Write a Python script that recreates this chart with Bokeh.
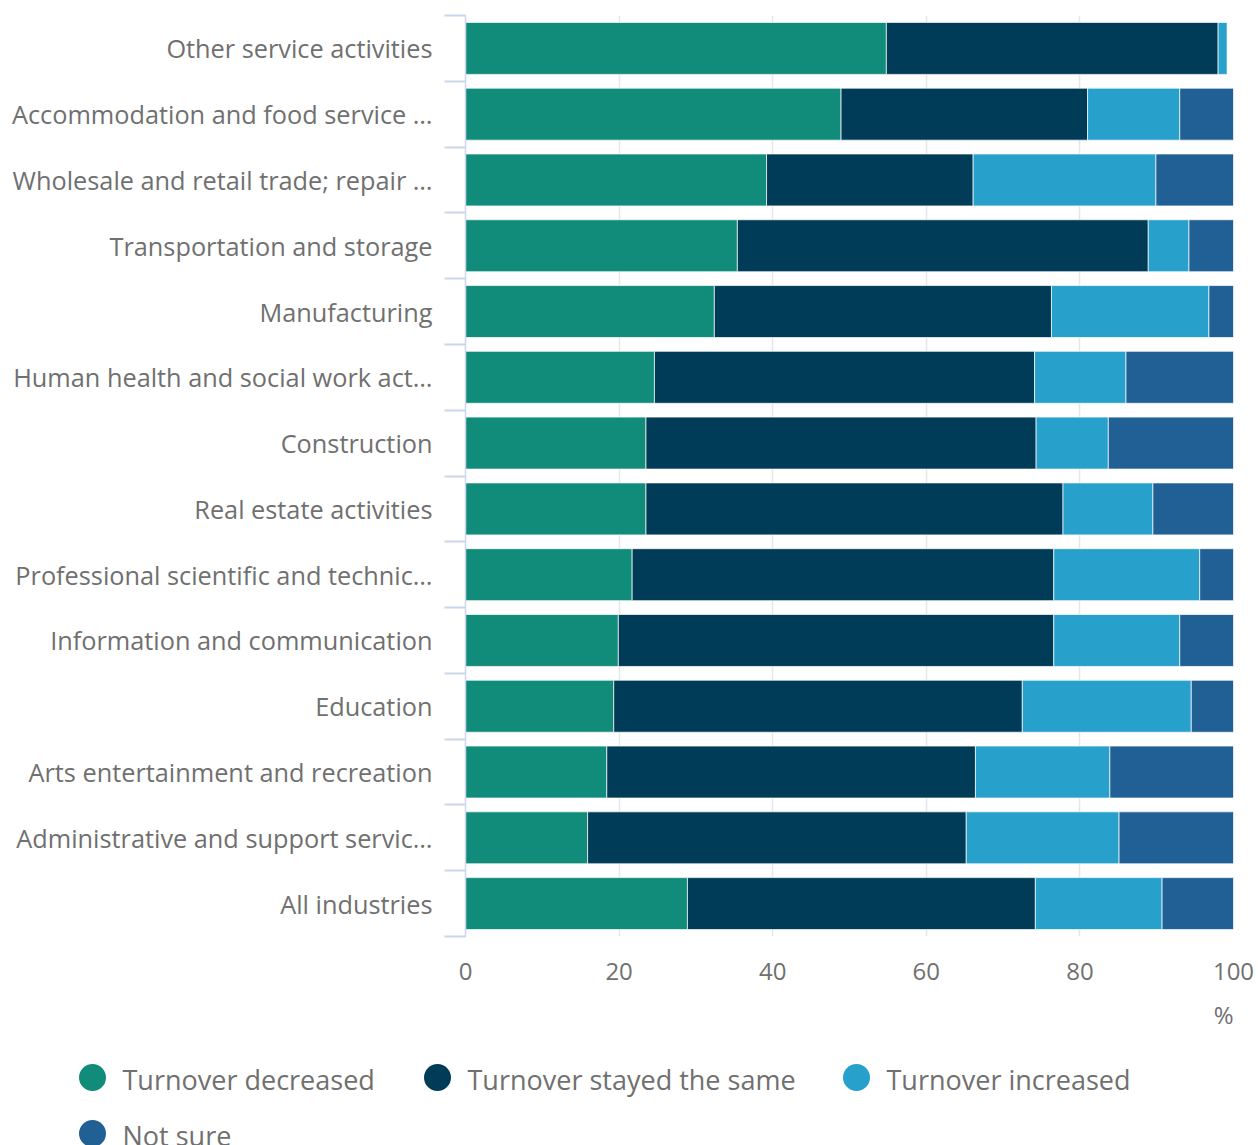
from bokeh.plotting import figure
from bokeh.models import Range1d, FixedTicker, Title, ColumnDataSource
from bokeh.core.properties import value
from bokeh.embed import file_html
from bokeh.resources import INLINE

categories = [
    "Other service activities",
    "Accommodation and food service …",
    "Wholesale and retail trade; repair …",
    "Transportation and storage",
    "Manufacturing",
    "Human health and social work act…",
    "Construction",
    "Real estate activities",
    "Professional scientific and technic…",
    "Information and communication",
    "Education",
    "Arts entertainment and recreation",
    "Administrative and support servic…",
    "All industries",
]
decreased = [54.8, 48.9, 39.2, 35.4, 32.4, 24.6, 23.5, 23.5, 21.7, 19.9, 19.3, 18.4, 15.9, 28.9]
same = [43.2, 32.1, 26.9, 53.5, 43.9, 49.5, 50.8, 54.3, 54.9, 56.7, 53.2, 48.0, 49.3, 45.3]
increased = [1.2, 12.0, 23.8, 5.3, 20.5, 11.9, 9.4, 11.7, 19.0, 16.4, 22.0, 17.5, 19.9, 16.5]
not_sure = [0.0, 7.0, 10.1, 5.8, 3.2, 14.0, 16.3, 10.5, 4.4, 7.0, 5.5, 16.1, 14.9, 9.3]
series_names = ["Turnover decreased", "Turnover stayed the same", "Turnover increased", "Not sure"]
colors = ["#118C7B", "#003C57", "#27A0CC", "#206095"]
x_ticks = [0, 20, 40, 60, 80, 100]

FONT = "Open Sans"
GREY = "#707070"
n = len(categories)
ypos = list(range(n))

source = ColumnDataSource(dict(y=ypos, decreased=decreased, same=same,
                               increased=increased, not_sure=not_sure))

p = figure(width=1258, height=1045, output_backend="svg", toolbar_location=None,
           x_range=Range1d(0, 100), y_range=Range1d(n - 0.5, -0.5),
           min_border_left=465, min_border_right=25, min_border_top=15, min_border_bottom=109)
p.outline_line_color = None

keys = ["decreased", "same", "increased", "not_sure"]
p.hbar_stack(keys, y="y", height=0.79, color=colors, source=source,
             line_color="white", line_width=1, line_alpha=0.7)

# y axis
ya = p.yaxis[0]
ya.ticker = FixedTicker(ticks=ypos, minor_ticks=[i - 0.5 for i in range(n + 1)])
ya.major_label_overrides = {i: c for i, c in enumerate(categories)}
ya.major_tick_out = 0
ya.major_tick_in = 0
ya.major_tick_line_color = None
ya.minor_tick_out = 21
ya.minor_tick_in = 0
ya.minor_tick_line_color = "#ccd6eb"
ya.minor_tick_line_width = 2
ya.axis_line_color = "#ccd6eb"
ya.axis_line_width = 1.5
ya.major_label_standoff = 12
ya.major_label_text_font = FONT
ya.major_label_text_font_size = "25.3px"
ya.major_label_text_color = GREY

# x axis
xa = p.xaxis[0]
xa.ticker = FixedTicker(ticks=x_ticks)
xa.axis_line_color = None
xa.major_tick_line_color = None
xa.minor_tick_line_color = None
xa.major_label_standoff = 20
xa.major_label_text_font = FONT
xa.major_label_text_font_size = "24px"
xa.major_label_text_color = GREY

p.xgrid.grid_line_color = "#e6e6e6"
p.xgrid.grid_line_width = 1.5
p.ygrid.visible = False

p.add_layout(Title(text="%", align="right", text_font=FONT, text_font_size="24px",
                   text_color=GREY, text_font_style="normal", standoff=27), "below")

# legend strip (separate root, pixel-like coordinates for layout)
lf = figure(width=1258, height=100, output_backend="svg", toolbar_location=None,
            x_range=Range1d(0, 1258), y_range=Range1d(100, 0),
            x_axis_type=None, y_axis_type=None,
            min_border_left=0, min_border_right=0, min_border_top=0, min_border_bottom=0)
lf.outline_line_color = None
lf.xgrid.visible = False
lf.ygrid.visible = False

leg_x = [92, 437, 856, 92]
leg_y = [32, 32, 32, 88]
lf.scatter(x=leg_x, y=leg_y, size=27, marker="circle", color=colors, line_color=None)
lf.text(x=[v + 30 for v in leg_x], y=[v + 2 for v in leg_y], text=series_names,
        text_font=value(FONT), text_font_size="27px", text_color=GREY,
        text_baseline="middle", text_align="left")

open("out.html", "w").write(file_html([p, lf], INLINE))
